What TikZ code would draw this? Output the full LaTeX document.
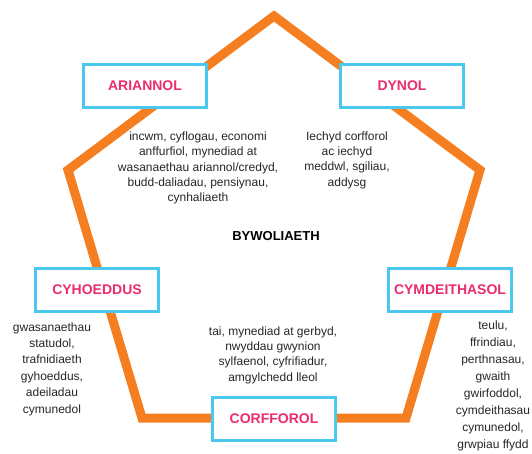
\documentclass[tikz,border=0pt]{standalone}
\usepackage{fontspec}
\setmainfont{Liberation Sans}
\usetikzlibrary{positioning}
\definecolor{ink}{HTML}{262626}
\definecolor{ringcol}{HTML}{F47E20}
\definecolor{boxcol}{HTML}{4BC8EE}
\definecolor{capcol}{HTML}{EC2D6B}

\begin{document}
\begin{tikzpicture}[
  x=1pt, y=-1pt, line join=miter,
  domainbox/.style={draw=boxcol, line width=3pt, fill=white, inner sep=0pt,
    minimum width=123pt, minimum height=43pt, text=capcol,
    font=\fontsize{14}{16}\selectfont\bfseries},
  desc/.style={font=\fontsize{12}{15.3}\selectfont, text=ink, align=center,
    inner sep=0pt}]
\useasboundingbox (0,0) rectangle (532,454);

% ============================================== the pentagon
\coordinate (apex)   at (274,16);
\coordinate (wleft)  at (68,170);
\coordinate (sleft)  at (142,418);
\coordinate (sright) at (406,418);
\coordinate (wright) at (480,170);
\draw[ringcol, line width=9pt] (apex) -- (wleft) -- (sleft) -- (sright)
  -- (wright) -- cycle;

\node[font=\fontsize{13}{15}\selectfont\bfseries, text=black] (centre)
  at (276,236) {BYWOLIAETH};

% ============================================== the five assets
\node[domainbox] (ariannol) at (145,86)  {ARIANNOL};
\node[domainbox] (dynol)    at (402,86)  {DYNOL};
\node[domainbox] (cyhoedd)  at (97,290)  {CYHOEDDUS};
\node[domainbox] (cymdeith) at (450,290) {CYMDEITHASOL};
\node[domainbox] (corff)    at (274,419) {CORFFOROL};

% what each one holds
\node[desc] (ariannoltxt) at (198,168)
  {incwm, cyflogau, economi\\ anffurfiol, mynediad at\\
   wasanaethau ariannol/credyd,\\ budd-daliadau, pensiynau,\\ cynhaliaeth};
\node[desc] (dynoltxt) at (347,160)
  {Iechyd corfforol\\ ac iechyd\\ meddwl, sgiliau,\\ addysg};
\node[desc, font=\fontsize{12}{16.4}\selectfont] (cyhoeddtxt) at (52,369)
  {gwasanaethau\\ statudol,\\ trafnidiaeth\\ gyhoeddus,\\ adeiladau\\ cymunedol};
\node[desc] (corfftxt) at (273,355)
  {tai, mynediad at gerbyd,\\ nwyddau gwynion\\ sylfaenol, cyfrifiadur,\\
   amgylchedd lleol};
\node[desc, font=\fontsize{12}{17.1}\selectfont] (cymdeithtxt) at (493,386)
  {teulu,\\ ffrindiau,\\ perthnasau,\\ gwaith\\ gwirfoddol,\\ cymdeithasau\\
   cymunedol,\\ grwpiau ffydd};

\end{tikzpicture}
\end{document}
